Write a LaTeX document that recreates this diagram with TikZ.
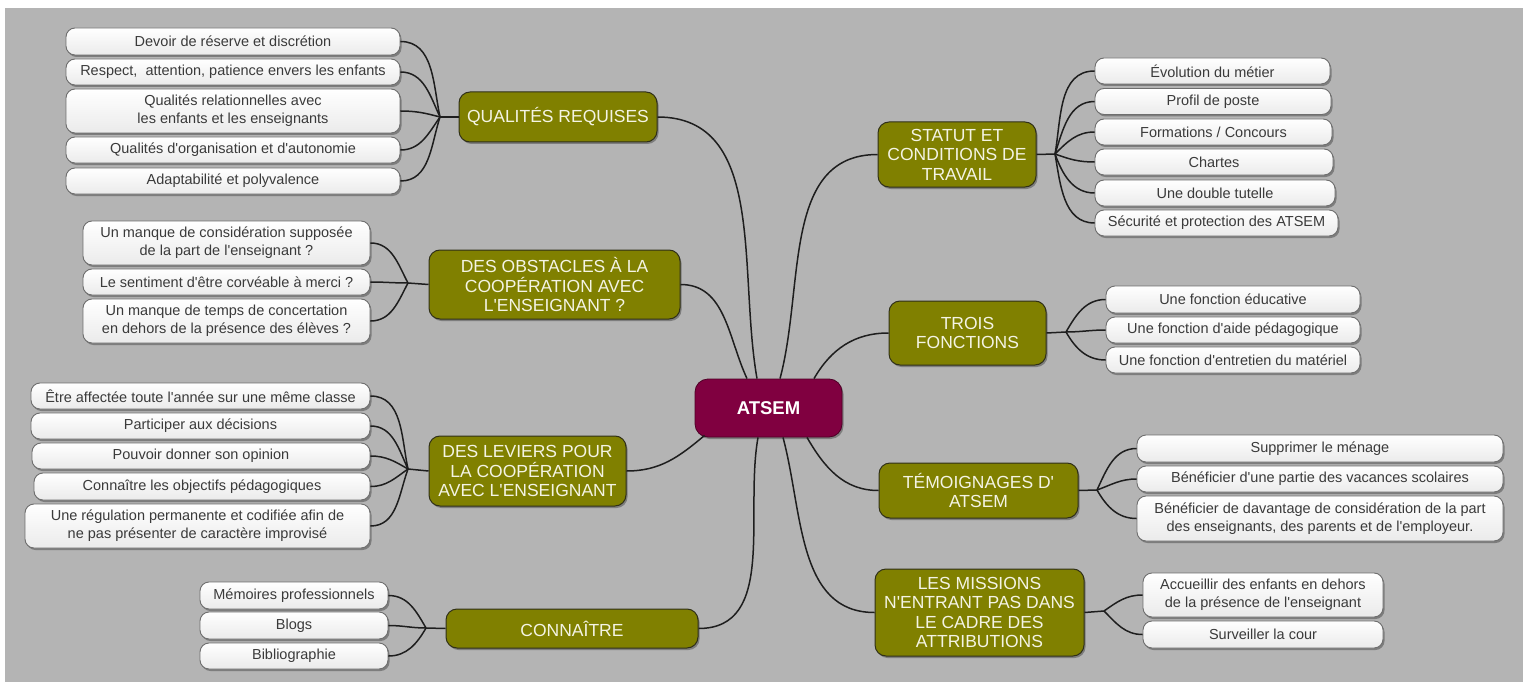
\documentclass[tikz,border=0pt]{standalone}
\usepackage{fontspec}
\setmainfont{Liberation Sans}[Ligatures=TeXOff]
\usetikzlibrary{shadows}
\definecolor{bg}{HTML}{B4B4B4}
\definecolor{olivebox}{HTML}{808000}
\definecolor{rootc}{HTML}{800040}
\definecolor{leaftext}{HTML}{3A3A3A}
\definecolor{branchtext}{HTML}{F4F4E4}
\definecolor{leafborder}{HTML}{6E6E6E}
\definecolor{branchborder}{HTML}{303018}
\definecolor{linkc}{HTML}{1E1E1E}
\begin{document}
\begin{tikzpicture}[x=1pt,y=1pt,
 boxshadow/.style={drop shadow={shadow xshift=1.5pt,shadow yshift=-2pt,opacity=0.3,fill=black}},
 rootbox/.style={boxshadow, rectangle, rounded corners=13pt, fill=rootc, draw=rootc!60!black, line width=0.8pt, text=white, font=\bfseries\fontsize{18.5}{22}\selectfont, inner sep=0pt},
 branchbox/.style={boxshadow, rectangle, rounded corners=11pt, fill=olivebox, draw=branchborder, line width=1pt, text=branchtext, font=\fontsize{17.5}{19.5}\selectfont, align=center, inner sep=0pt},
 leafbox/.style={boxshadow, rectangle, rounded corners=9pt, top color=white, bottom color=black!8, draw=leafborder, line width=0.9pt, text=leaftext, font=\fontsize{14.5}{18}\selectfont, align=center, inner sep=0pt},
 link/.style={draw=linkc, line width=1.5pt},
 sz/.style 2 args={minimum width=#1pt, minimum height=#2pt},
]
\useasboundingbox (0,0) rectangle (1523,-682);
\fill[bg] (5,-8) rectangle (1523,-682);

% root
\node[rootbox, sz={147}{58}] (root) at (768.5,-408) {ATSEM};

% branches
\node[branchbox, sz={198}{50}] (qual) at (558,-117) {QUALITÉS REQUISES};
\node[branchbox, sz={251}{69}] (obst) at (554.5,-284.5) {DES OBSTACLES À LA\\COOPÉRATION AVEC\\L'ENSEIGNANT ?};
\node[branchbox, sz={197}{70}] (lev) at (527.5,-471) {DES LEVIERS POUR\\LA COOPÉRATION\\AVEC L'ENSEIGNANT};
\node[branchbox, sz={252}{39}] (conn) at (572,-628.5) {CONNAÎTRE};
\node[branchbox, sz={158}{65}] (stat) at (957,-154.5) {STATUT ET\\CONDITIONS DE\\TRAVAIL};
\node[branchbox, sz={157}{64}] (trois) at (967.5,-333) {TROIS\\FONCTIONS};
\node[branchbox, sz={199}{55}] (temo) at (978.5,-490.5) {TÉMOIGNAGES D'\\ATSEM};
\node[branchbox, sz={209}{87}] (miss) at (979.5,-612.5) {LES MISSIONS\\N'ENTRANT PAS DANS\\LE CADRE DES\\ATTRIBUTIONS};

% junctions
\coordinate (jq) at (440,-117);
\coordinate (jo) at (408,-283);
\coordinate (jl) at (408,-469);
\coordinate (jc) at (426,-628);
\coordinate (js) at (1055,-154);
\coordinate (jt) at (1066,-332);
\coordinate (jw) at (1097,-490);
\coordinate (jm) at (1104,-611);

% leaves: qualites
\node[leafbox, sz={334}{27}] (q1) at (233,-41.5) {Devoir de réserve et discrétion};
\node[leafbox, sz={334}{26}] (q2) at (233,-72) {Respect,\ \ attention, patience envers les enfants};
\node[leafbox, sz={334}{44}] (q3) at (233,-111) {Qualités relationnelles avec\\les enfants et les enseignants};
\node[leafbox, sz={334}{26}] (q4) at (233,-150) {Qualités d'organisation et d'autonomie};
\node[leafbox, sz={334}{26}] (q5) at (233,-181) {Adaptabilité et polyvalence};
% obstacles
\node[leafbox, sz={287}{44}] (o1) at (226.5,-243) {Un manque de considération supposée\\de la part de l'enseignant ?};
\node[leafbox, sz={287}{26}] (o2) at (226.5,-282) {Le sentiment d'être corvéable à merci ?};
\node[leafbox, sz={287}{44}] (o3) at (226.5,-321) {Un manque de temps de concertation\\en dehors de la présence des élèves ?};
% leviers
\node[leafbox, sz={339}{26}] (l1) at (200.5,-396) {Être affectée toute l'année sur une même classe};
\node[leafbox, sz={339}{26}] (l2) at (200.5,-426) {Participer aux décisions};
\node[leafbox, sz={338}{26}] (l3) at (201,-456) {Pouvoir donner son opinion};
\node[leafbox, sz={336}{27}] (l4) at (202,-486.5) {Connaître les objectifs pédagogiques};
\node[leafbox, sz={345}{44}] (l5) at (197.5,-526) {Une régulation permanente et codifiée afin de\\ne pas présenter de caractère improvisé};
% connaitre
\node[leafbox, sz={188}{27}] (k1) at (294,-595.5) {Mémoires professionnels};
\node[leafbox, sz={188}{27}] (k2) at (294,-625.5) {Blogs};
\node[leafbox, sz={188}{26}] (k3) at (294,-656) {Bibliographie};
% statut
\node[leafbox, sz={235}{26}] (s1) at (1212.5,-71) {Évolution du métier};
\node[leafbox, sz={236}{26}] (s2) at (1213,-101.5) {Profil de poste};
\node[leafbox, sz={237}{26}] (s3) at (1213.5,-132) {Formations / Concours};
\node[leafbox, sz={238}{26}] (s4) at (1214,-162) {Chartes};
\node[leafbox, sz={240}{26}] (s5) at (1215,-193) {Une double tutelle};
\node[leafbox, sz={243}{26}] (s6) at (1216.5,-223) {Sécurité et protection des ATSEM};
% trois
\node[leafbox, sz={254}{27}] (t1) at (1233,-299.5) {Une fonction éducative};
\node[leafbox, sz={254}{26}] (t2) at (1233,-330) {Une fonction d'aide pédagogique};
\node[leafbox, sz={254}{26}] (t3) at (1233,-360) {Une fonction d'entretien du matériel};
% temoignages
\node[leafbox, sz={366}{27}] (w1) at (1320,-448.5) {Supprimer le ménage};
\node[leafbox, sz={366}{26}] (w2) at (1320,-479) {Bénéficier d'une partie des vacances scolaires};
\node[leafbox, sz={366}{45}] (w3) at (1320,-518.5) {Bénéficier de davantage de considération de la part\\des enseignants, des parents et de l'employeur.};
% missions
\node[leafbox, sz={240}{44}] (m1) at (1263,-595) {Accueillir des enfants en dehors\\de la présence de l'enseignant};
\node[leafbox, sz={240}{27}] (m2) at (1263,-634.5) {Surveiller la cour};

% root to branches
\draw[link] ([xshift=-11.5pt]root.north) to[out=100,in=0] (qual.east);
\draw[link] ([xshift=-21.5pt]root.north) to[out=115,in=0] (obst.east);
\draw[link] ([xshift=11.5pt]root.north) to[out=75,in=180] (stat.west);
\draw[link] ([xshift=45.5pt]root.north) to[out=60,in=180] (trois.west);
\draw[link] ([xshift=10pt,yshift=2pt]root.south west) to[out=220,in=0] (lev.east);
\draw[link] ([xshift=-10.5pt]root.south) to[out=260,in=0] (conn.east);
\draw[link] ([xshift=14.5pt]root.south) to[out=285,in=180] (miss.west);
\draw[link] ([xshift=38.5pt]root.south) to[out=300,in=180] (temo.west);

% branch to junction
\draw[link] (qual.west) -- (jq);
\draw[link] (obst.west) -- (jo);
\draw[link] (lev.west) -- (jl);
\draw[link] (conn.west) -- (jc);
\draw[link] (stat.east) -- (js);
\draw[link] (trois.east) -- (jt);
\draw[link] (temo.east) -- (jw);
\draw[link] (miss.east) -- (jm);

% junction to leaves (left)
\draw[link] (jq) to[out=102,in=0] (q1.east);
\draw[link] (jq) to[out=115,in=0] (q2.east);
\draw[link] (jq) to[out=165,in=0] (q3.east);
\draw[link] (jq) to[out=235,in=0] (q4.east);
\draw[link] (jq) to[out=252,in=0] (q5.east);
\draw[link] (jo) to[out=118,in=0] (o1.east);
\draw[link] (jo) to[out=180,in=0] (o2.east);
\draw[link] (jo) to[out=242,in=0] (o3.east);
\draw[link] (jl) to[out=102,in=0] (l1.east);
\draw[link] (jl) to[out=115,in=0] (l2.east);
\draw[link] (jl) to[out=150,in=0] (l3.east);
\draw[link] (jl) to[out=215,in=0] (l4.east);
\draw[link] (jl) to[out=250,in=0] (l5.east);
\draw[link] (jc) to[out=120,in=0] (k1.east);
\draw[link] (jc) to[out=180,in=0] (k2.east);
\draw[link] (jc) to[out=240,in=0] (k3.east);
% junction to leaves (right)
\draw[link] (js) to[out=80,in=180] (s1.west);
\draw[link] (js) to[out=72,in=180] (s2.west);
\draw[link] (js) to[out=45,in=180] (s3.west);
\draw[link] (js) to[out=340,in=180] (s4.west);
\draw[link] (js) to[out=290,in=180] (s5.west);
\draw[link] (js) to[out=280,in=180] (s6.west);
\draw[link] (jt) to[out=60,in=180] (t1.west);
\draw[link] (jt) to[out=0,in=180] (t2.west);
\draw[link] (jt) to[out=300,in=180] (t3.west);
\draw[link] (jw) to[out=65,in=180] (w1.west);
\draw[link] (jw) to[out=20,in=180] (w2.west);
\draw[link] (jw) to[out=300,in=180] (w3.west);
\draw[link] (jm) to[out=35,in=180] (m1.west);
\draw[link] (jm) to[out=315,in=180] (m2.west);
\end{tikzpicture}
\end{document}
